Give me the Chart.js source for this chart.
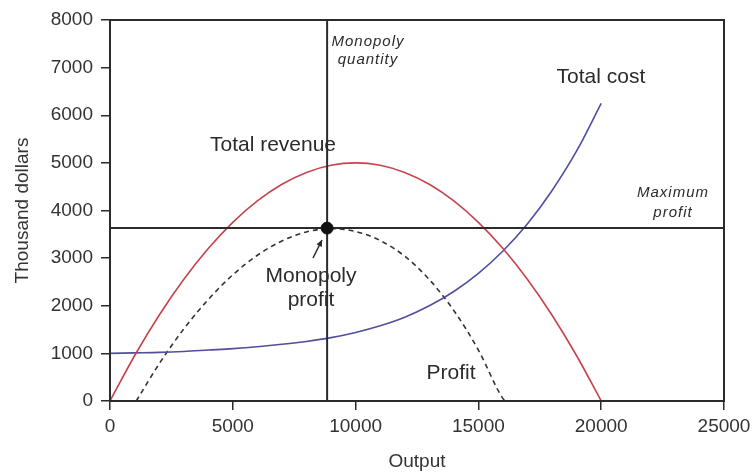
<!DOCTYPE html>
<html>
<head>
<meta charset="utf-8">
<script src="https://cdn.jsdelivr.net/npm/chart.js@4.4.1/dist/chart.umd.min.js"></script>
<style>
  html, body { margin: 0; padding: 0; background: #fff; }
  canvas { display: block; }
</style>
</head>
<body>
<canvas id="c" width="753" height="474"></canvas>
<script>
// ===== Data (thousand dollars) =====
const OUTPUT   = [0, 1000, 2000, 3000, 4000, 5000, 6000, 7000, 8000, 9000, 10000,
                  11000, 12000, 13000, 14000, 15000, 16000, 17000, 18000, 19000, 20000];
const REVENUE  = [0, 950, 1800, 2550, 3200, 3750, 4200, 4550, 4800, 4950, 5000,
                  4950, 4800, 4550, 4200, 3750, 3200, 2550, 1800, 950, 0];
const COST     = [1000, 1010, 1020, 1040, 1070, 1100, 1140, 1190, 1250, 1330, 1440,
                  1580, 1760, 2000, 2300, 2680, 3150, 3720, 4420, 5250, 6250];
const PROFIT_X = [1070, 2000, 3000, 4000, 5000, 6000, 7000, 8000, 9000, 10000,
                  11000, 12000, 13000, 14000, 15000, 16000, 16100];
const PROFIT   = [0, 780, 1510, 2130, 2650, 3060, 3360, 3550, 3620, 3560,
                  3370, 3040, 2550, 1900, 1070, 50, 0];
const MONO_Q     = 8840;   // monopoly quantity
const MAX_PROFIT = 3630;   // maximum profit
const X_TICKS = [0, 5000, 10000, 15000, 20000, 25000];
const Y_TICKS = [0, 1000, 2000, 3000, 4000, 5000, 6000, 7000, 8000];

const INK = '#2b2b2b';
const pts = (xs, ys) => xs.map((x, i) => ({ x, y: ys[i] }));

// labels placed in data units
const LABELS = [
  { t: 'Monopoly',      x: 10505, y: 7538, f: 'italic 15px "Liberation Sans", Arial', ls: '1px' },
  { t: 'quantity',      x: 10505, y: 7160, f: 'italic 15px "Liberation Sans", Arial', ls: '1px' },
  { t: 'Total revenue', x: 6637,  y: 5375, f: '21px "Liberation Sans", Arial', ls: '0px' },
  { t: 'Total cost',    x: 19990, y: 6803, f: '21px "Liberation Sans", Arial', ls: '0px' },
  { t: 'Maximum',       x: 22923, y: 4367, f: 'italic 15px "Liberation Sans", Arial', ls: '1px' },
  { t: 'profit',        x: 22923, y: 3947, f: 'italic 15px "Liberation Sans", Arial', ls: '1px' },
  { t: 'Monopoly',      x: 8184,  y: 2625, f: '21px "Liberation Sans", Arial', ls: '0px' },
  { t: 'profit',        x: 8184,  y: 2121, f: '21px "Liberation Sans", Arial', ls: '0px' },
  { t: 'Profit',        x: 13884, y: 588,  f: '21px "Liberation Sans", Arial', ls: '0px' }
];
const ARROW = { x0: 8265, y0: 3003, x1: 8632, y1: 3381 };

const decor = {
  id: 'decor',
  afterDatasetsDraw(chart) {
    const { ctx, chartArea: a, scales: { x, y } } = chart;
    ctx.save();
    // frame
    ctx.strokeStyle = INK;
    ctx.lineWidth = 2;
    ctx.strokeRect(a.left, a.top, a.right - a.left, a.bottom - a.top);
    // arrow
    const ax0 = x.getPixelForValue(ARROW.x0), ay0 = y.getPixelForValue(ARROW.y0);
    const ax1 = x.getPixelForValue(ARROW.x1), ay1 = y.getPixelForValue(ARROW.y1);
    ctx.lineWidth = 1.5;
    ctx.beginPath();
    ctx.moveTo(ax0, ay0);
    ctx.lineTo(ax1, ay1);
    ctx.stroke();
    const ang = Math.atan2(ay1 - ay0, ax1 - ax0);
    ctx.fillStyle = INK;
    ctx.beginPath();
    ctx.moveTo(ax1, ay1);
    ctx.lineTo(ax1 - 7 * Math.cos(ang - 0.45), ay1 - 7 * Math.sin(ang - 0.45));
    ctx.lineTo(ax1 - 7 * Math.cos(ang + 0.45), ay1 - 7 * Math.sin(ang + 0.45));
    ctx.closePath();
    ctx.fill();
    // text
    ctx.textAlign = 'center';
    ctx.textBaseline = 'middle';
    LABELS.forEach(l => {
      ctx.font = l.f;
      ctx.letterSpacing = l.ls;
      ctx.fillText(l.t, x.getPixelForValue(l.x), y.getPixelForValue(l.y));
    });
    ctx.restore();
  }
};

const tickFont = { family: '"Liberation Sans", Arial', size: 19 };
const plain = v => String(v);

new Chart(document.getElementById('c'), {
  type: 'line',
  data: {
    datasets: [
      { data: [{ x: MONO_Q, y: MAX_PROFIT }], showLine: false, pointRadius: 6,
        pointBackgroundColor: '#111', pointBorderColor: '#111', order: 0 },
      { data: pts(OUTPUT, REVENUE), borderColor: '#c4434d', borderWidth: 1.6,
        pointRadius: 0, cubicInterpolationMode: 'monotone', order: 2 },
      { data: pts(OUTPUT, COST), borderColor: '#4f4f9e', borderWidth: 1.6,
        pointRadius: 0, cubicInterpolationMode: 'monotone', order: 2 },
      { data: pts(PROFIT_X, PROFIT), borderColor: '#333', borderWidth: 1.6,
        borderDash: [5, 4], pointRadius: 0, cubicInterpolationMode: 'monotone', order: 2 },
      { data: [{ x: 0, y: MAX_PROFIT }, { x: 25000, y: MAX_PROFIT }], borderColor: INK,
        borderWidth: 2, pointRadius: 0, order: 1 },
      { data: [{ x: MONO_Q, y: 0 }, { x: MONO_Q, y: 8000 }], borderColor: INK,
        borderWidth: 2, pointRadius: 0, order: 1 }
    ]
  },
  options: {
    responsive: false,
    animation: false,
    devicePixelRatio: 1,
    layout: { padding: { left: 0, right: 29, top: 20, bottom: 0 } },
    plugins: { legend: { display: false }, tooltip: { enabled: false } },
    scales: {
      x: {
        type: 'linear', min: 0, max: 25000,
        afterBuildTicks: s => { s.ticks = X_TICKS.map(v => ({ value: v })); },
        afterFit: s => { s.height = 73; s.paddingLeft = 0; s.paddingRight = 0; },
        border: { color: INK, width: 2 },
        grid: { drawOnChartArea: false, tickLength: 9, color: INK, lineWidth: 1.5 },
        ticks: { color: '#333', font: tickFont, padding: 5, maxRotation: 0, callback: plain },
        title: { display: true, text: 'Output', color: '#333', font: tickFont,
                 padding: { top: 0, bottom: 1 } }
      },
      y: {
        type: 'linear', min: 0, max: 8000,
        afterBuildTicks: s => { s.ticks = Y_TICKS.map(v => ({ value: v })); },
        afterFit: s => { s.width = 110; s.paddingTop = 0; s.paddingBottom = 0; },
        border: { color: INK, width: 2 },
        grid: { drawOnChartArea: false, tickLength: 9, color: INK, lineWidth: 1.5 },
        ticks: { color: '#333', font: tickFont, padding: 8, callback: plain },
        title: { display: true, text: 'Thousand dollars', color: '#333', font: tickFont,
                 padding: { top: 11, bottom: 0 } }
      }
    }
  },
  plugins: [decor]
});
</script>
</body>
</html>
